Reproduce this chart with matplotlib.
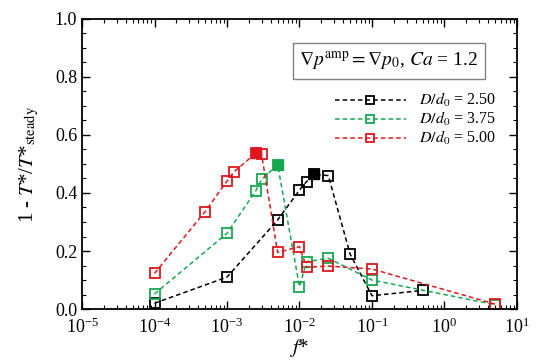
import matplotlib
matplotlib.use("Agg")
import matplotlib.pyplot as plt
from matplotlib.ticker import MultipleLocator, LogLocator, NullFormatter

# data
f_25 = [1e-4, 1e-3, 5e-3, 1e-2, 1.25e-2, 1.6e-2, 2.5e-2, 5e-2, 1e-1, 5e-1]
y_25 = [0.02, 0.11, 0.307, 0.41, 0.439, 0.464, 0.46, 0.189, 0.046, 0.064]
f_375 = [1e-4, 1e-3, 2.5e-3, 3e-3, 5e-3, 1e-2, 1.25e-2, 2.5e-2, 1e-1, 5.0]
y_375 = [0.052, 0.261, 0.408, 0.447, 0.497, 0.077, 0.163, 0.175, 0.10, 0.015]
f_50 = [1e-4, 5e-4, 1e-3, 1.25e-3, 2.5e-3, 3e-3, 5e-3, 1e-2, 1.25e-2, 2.5e-2, 1e-1, 5.0]
y_50 = [0.123, 0.336, 0.441, 0.473, 0.537, 0.533, 0.195, 0.215, 0.144, 0.148, 0.138, 0.017]
peak_25 = 5
peak_375 = 4
peak_50 = 4

labels = [r"$D/d_0$ = 2.50", r"$D/d_0$ = 3.75", r"$D/d_0$ = 5.00"]
colors = ["black", "#17a84f", "#e0161c"]

plt.rcParams['font.family'] = ['Liberation Serif', 'DejaVu Serif']
plt.rcParams['mathtext.fontset'] = 'stix'

fig = plt.figure(figsize=(5.45, 3.64), dpi=100)
ax = fig.add_axes([0.1505, 0.151, 0.798, 0.797])

series = [(f_25, y_25, peak_25), (f_375, y_375, peak_375), (f_50, y_50, peak_50)]
for (fx, fy, pk), c, lab in zip(series, colors, labels):
    ax.plot(fx, fy, linestyle=(0, (3, 2)), color=c, lw=1.1, marker='s', markersize=7.5,
            markerfacecolor='none', markeredgecolor=c, markeredgewidth=1.3, label=lab)
    ax.plot(fx[pk], fy[pk], marker='s', markersize=7.5, color=c, linestyle='none')

ax.set_xscale('log')
ax.set_xlim(1e-5, 1e1)
ax.set_ylim(0, 1.0)
ax.yaxis.set_major_locator(MultipleLocator(0.2))
ax.yaxis.set_minor_locator(MultipleLocator(0.05))
ax.xaxis.set_major_locator(LogLocator(base=10, numticks=10))
ax.xaxis.set_minor_locator(LogLocator(base=10, subs=range(2, 10), numticks=100))
ax.xaxis.set_minor_formatter(NullFormatter())
ax.yaxis.set_major_formatter(plt.FuncFormatter(lambda v, p: f"{v:.1f}"))
ax.tick_params(which='both', direction='in', top=True, right=True, labelsize=13)
ax.tick_params(axis='x', which='major', pad=6)
ax.tick_params(which='major', length=6, width=1)
ax.tick_params(which='minor', length=3, width=0.8)
for s in ax.spines.values():
    s.set_linewidth(1.3)

ax.set_xlabel(r"$f$*", fontsize=15, labelpad=0)
ax.set_ylabel(r"1 - $T$*/$T$*$_{\mathrm{steady}}$", fontsize=15, labelpad=10)

ax.text(0.5, 0.855, r"$\nabla p^{\mathrm{amp}} = \nabla p_0$, $Ca$ = 1.2", transform=ax.transAxes,
        fontsize=14, va='center', ha='left',
        bbox=dict(boxstyle='square,pad=0.35', facecolor='white', edgecolor='gray', linewidth=1))

ax.legend(loc='upper right', bbox_to_anchor=(0.985, 0.8), frameon=False, fontsize=11.5,
          handlelength=4.5, labelspacing=0.05, handletextpad=0.8, markerscale=0.85)

plt.savefig("out.png", dpi=100)
